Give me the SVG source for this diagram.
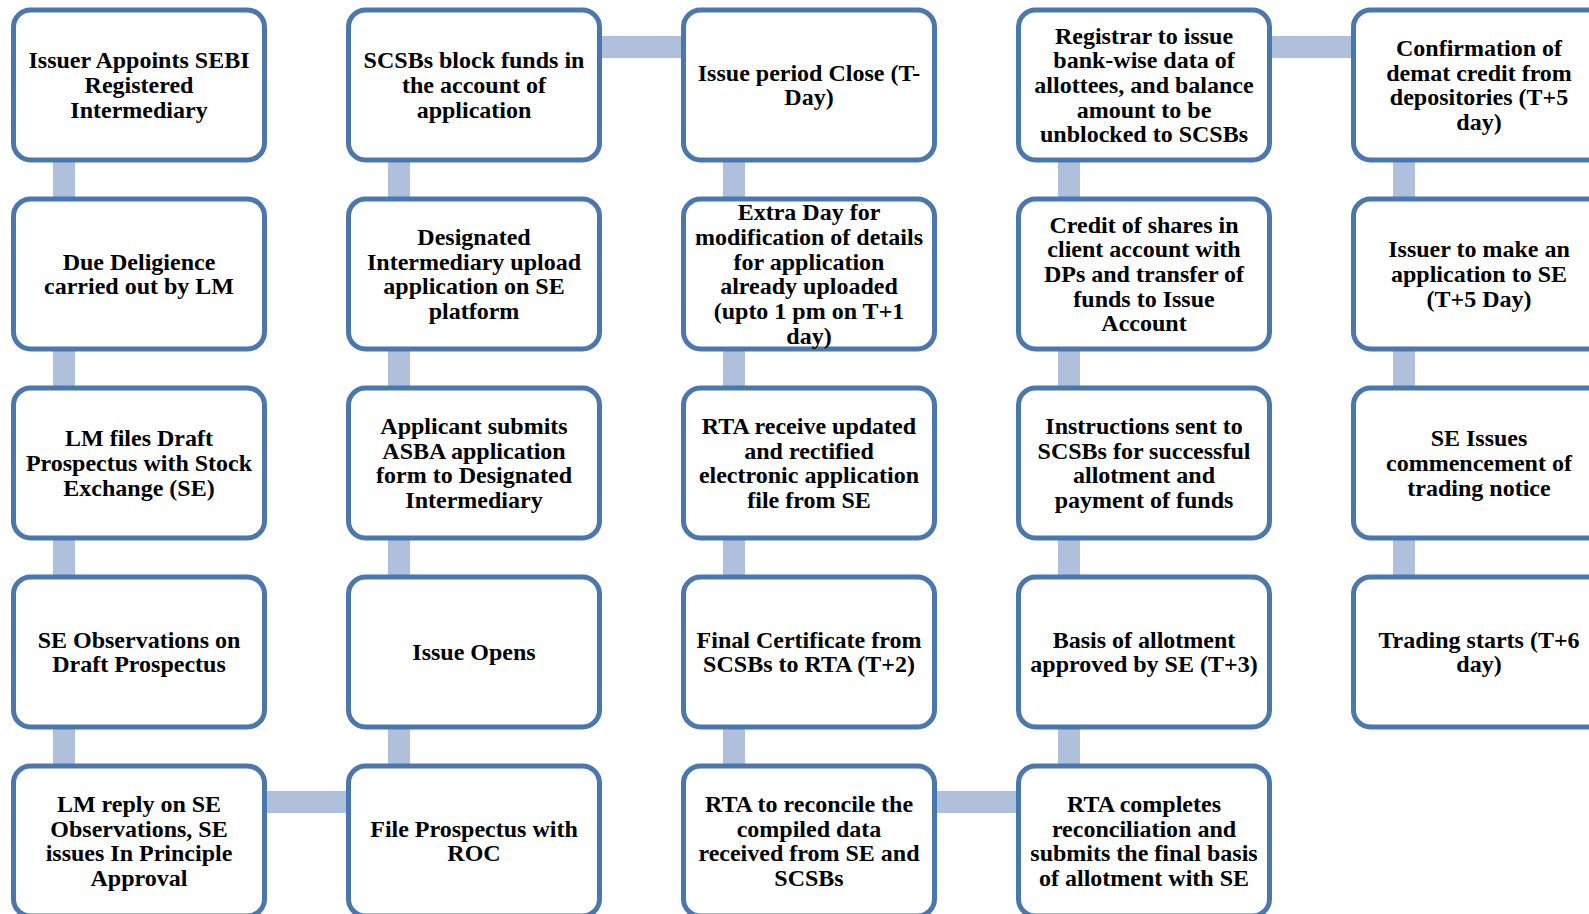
<svg xmlns="http://www.w3.org/2000/svg" width="1589" height="914" viewBox="0 0 1589 914">
<style>
.box{fill:#fff;stroke:#4a77ad;stroke-width:5}
.c{fill:#afc0dc}
text{font-family:"Liberation Serif","Times New Roman",serif;font-weight:bold;font-size:24px;fill:#000;text-anchor:middle}
</style>
<rect width="1589" height="914" fill="#fff"/>
<g id="connectors">
<rect class="c" x="53" y="160" width="22" height="40"/>
<rect class="c" x="53" y="349" width="22" height="40"/>
<rect class="c" x="53" y="538" width="22" height="40"/>
<rect class="c" x="53" y="727" width="22" height="40"/>
<rect class="c" x="388" y="160" width="22" height="40"/>
<rect class="c" x="388" y="349" width="22" height="40"/>
<rect class="c" x="388" y="538" width="22" height="40"/>
<rect class="c" x="388" y="727" width="22" height="40"/>
<rect class="c" x="723" y="160" width="22" height="40"/>
<rect class="c" x="723" y="349" width="22" height="40"/>
<rect class="c" x="723" y="538" width="22" height="40"/>
<rect class="c" x="723" y="727" width="22" height="40"/>
<rect class="c" x="1058" y="160" width="22" height="40"/>
<rect class="c" x="1058" y="349" width="22" height="40"/>
<rect class="c" x="1058" y="538" width="22" height="40"/>
<rect class="c" x="1058" y="727" width="22" height="40"/>
<rect class="c" x="1393" y="160" width="22" height="40"/>
<rect class="c" x="1393" y="349" width="22" height="40"/>
<rect class="c" x="1393" y="538" width="22" height="40"/>
<rect class="c" x="262" y="791" width="88" height="22"/>
<rect class="c" x="597" y="36" width="88" height="22"/>
<rect class="c" x="932" y="791" width="88" height="22"/>
<rect class="c" x="1267" y="36" width="88" height="22"/>
</g>
<g id="n1"><rect class="box" x="13.5" y="10" width="251" height="150" rx="17"/><text y="68.3"><tspan x="139">Issuer Appoints SEBI</tspan><tspan x="139" dy="24.7">Registered</tspan><tspan x="139" dy="24.7">Intermediary</tspan></text></g>
<g id="n2"><rect class="box" x="13.5" y="199" width="251" height="150" rx="17"/><text y="269.65"><tspan x="139">Due Deligience</tspan><tspan x="139" dy="24.7">carried out by LM</tspan></text></g>
<g id="n3"><rect class="box" x="13.5" y="388" width="251" height="150" rx="17"/><text y="446.3"><tspan x="139">LM files Draft</tspan><tspan x="139" dy="24.7">Prospectus with Stock</tspan><tspan x="139" dy="24.7">Exchange (SE)</tspan></text></g>
<g id="n4"><rect class="box" x="13.5" y="577" width="251" height="150" rx="17"/><text y="647.65"><tspan x="139">SE Observations on</tspan><tspan x="139" dy="24.7">Draft Prospectus</tspan></text></g>
<g id="n5"><rect class="box" x="13.5" y="766" width="251" height="150" rx="17"/><text y="811.95"><tspan x="139">LM reply on SE</tspan><tspan x="139" dy="24.7">Observations, SE</tspan><tspan x="139" dy="24.7">issues In Principle</tspan><tspan x="139" dy="24.7">Approval</tspan></text></g>
<g id="n6"><rect class="box" x="348.5" y="766" width="251" height="150" rx="17"/><text y="836.65"><tspan x="474">File Prospectus with</tspan><tspan x="474" dy="24.7">ROC</tspan></text></g>
<g id="n7"><rect class="box" x="348.5" y="577" width="251" height="150" rx="17"/><text y="660"><tspan x="474">Issue Opens</tspan></text></g>
<g id="n8"><rect class="box" x="348.5" y="388" width="251" height="150" rx="17"/><text y="433.95"><tspan x="474">Applicant submits</tspan><tspan x="474" dy="24.7">ASBA application</tspan><tspan x="474" dy="24.7">form to Designated</tspan><tspan x="474" dy="24.7">Intermediary</tspan></text></g>
<g id="n9"><rect class="box" x="348.5" y="199" width="251" height="150" rx="17"/><text y="244.95"><tspan x="474">Designated</tspan><tspan x="474" dy="24.7">Intermediary upload</tspan><tspan x="474" dy="24.7">application on SE</tspan><tspan x="474" dy="24.7">platform</tspan></text></g>
<g id="n10"><rect class="box" x="348.5" y="10" width="251" height="150" rx="17"/><text y="68.3"><tspan x="474">SCSBs block funds in</tspan><tspan x="474" dy="24.7">the account of</tspan><tspan x="474" dy="24.7">application</tspan></text></g>
<g id="n11"><rect class="box" x="683.5" y="10" width="251" height="150" rx="17"/><text y="80.65"><tspan x="809">Issue period Close (T-</tspan><tspan x="809" dy="24.7">Day)</tspan></text></g>
<g id="n12"><rect class="box" x="683.5" y="199" width="251" height="150" rx="17"/><text y="220.25"><tspan x="809">Extra Day for</tspan><tspan x="809" dy="24.7">modification of details</tspan><tspan x="809" dy="24.7">for application</tspan><tspan x="809" dy="24.7">already uploaded</tspan><tspan x="809" dy="24.7">(upto 1 pm on T+1</tspan><tspan x="809" dy="24.7">day)</tspan></text></g>
<g id="n13"><rect class="box" x="683.5" y="388" width="251" height="150" rx="17"/><text y="433.95"><tspan x="809">RTA receive updated</tspan><tspan x="809" dy="24.7">and rectified</tspan><tspan x="809" dy="24.7">electronic application</tspan><tspan x="809" dy="24.7">file from SE</tspan></text></g>
<g id="n14"><rect class="box" x="683.5" y="577" width="251" height="150" rx="17"/><text y="647.65"><tspan x="809">Final Certificate from</tspan><tspan x="809" dy="24.7">SCSBs to RTA (T+2)</tspan></text></g>
<g id="n15"><rect class="box" x="683.5" y="766" width="251" height="150" rx="17"/><text y="811.95"><tspan x="809">RTA to reconcile the</tspan><tspan x="809" dy="24.7">compiled data</tspan><tspan x="809" dy="24.7">received from SE and</tspan><tspan x="809" dy="24.7">SCSBs</tspan></text></g>
<g id="n16"><rect class="box" x="1018.5" y="766" width="251" height="150" rx="17"/><text y="811.95"><tspan x="1144">RTA completes</tspan><tspan x="1144" dy="24.7">reconciliation and</tspan><tspan x="1144" dy="24.7">submits the final basis</tspan><tspan x="1144" dy="24.7">of allotment with SE</tspan></text></g>
<g id="n17"><rect class="box" x="1018.5" y="577" width="251" height="150" rx="17"/><text y="647.65"><tspan x="1144">Basis of allotment</tspan><tspan x="1144" dy="24.7">approved by SE (T+3)</tspan></text></g>
<g id="n18"><rect class="box" x="1018.5" y="388" width="251" height="150" rx="17"/><text y="433.95"><tspan x="1144">Instructions sent to</tspan><tspan x="1144" dy="24.7">SCSBs for successful</tspan><tspan x="1144" dy="24.7">allotment and</tspan><tspan x="1144" dy="24.7">payment of funds</tspan></text></g>
<g id="n19"><rect class="box" x="1018.5" y="199" width="251" height="150" rx="17"/><text y="232.6"><tspan x="1144">Credit of shares in</tspan><tspan x="1144" dy="24.7">client account with</tspan><tspan x="1144" dy="24.7">DPs and transfer of</tspan><tspan x="1144" dy="24.7">funds to Issue</tspan><tspan x="1144" dy="24.7">Account</tspan></text></g>
<g id="n20"><rect class="box" x="1018.5" y="10" width="251" height="150" rx="17"/><text y="43.6"><tspan x="1144">Registrar to issue</tspan><tspan x="1144" dy="24.7">bank-wise data of</tspan><tspan x="1144" dy="24.7">allottees, and balance</tspan><tspan x="1144" dy="24.7">amount to be</tspan><tspan x="1144" dy="24.7">unblocked to SCSBs</tspan></text></g>
<g id="n21"><rect class="box" x="1353.5" y="10" width="251" height="150" rx="17"/><text y="55.95"><tspan x="1479">Confirmation of</tspan><tspan x="1479" dy="24.7">demat credit from</tspan><tspan x="1479" dy="24.7">depositories (T+5</tspan><tspan x="1479" dy="24.7">day)</tspan></text></g>
<g id="n22"><rect class="box" x="1353.5" y="199" width="251" height="150" rx="17"/><text y="257.3"><tspan x="1479">Issuer to make an</tspan><tspan x="1479" dy="24.7">application to SE</tspan><tspan x="1479" dy="24.7">(T+5 Day)</tspan></text></g>
<g id="n23"><rect class="box" x="1353.5" y="388" width="251" height="150" rx="17"/><text y="446.3"><tspan x="1479">SE Issues</tspan><tspan x="1479" dy="24.7">commencement of</tspan><tspan x="1479" dy="24.7">trading notice</tspan></text></g>
<g id="n24"><rect class="box" x="1353.5" y="577" width="251" height="150" rx="17"/><text y="647.65"><tspan x="1479">Trading starts (T+6</tspan><tspan x="1479" dy="24.7">day)</tspan></text></g>
</svg>
